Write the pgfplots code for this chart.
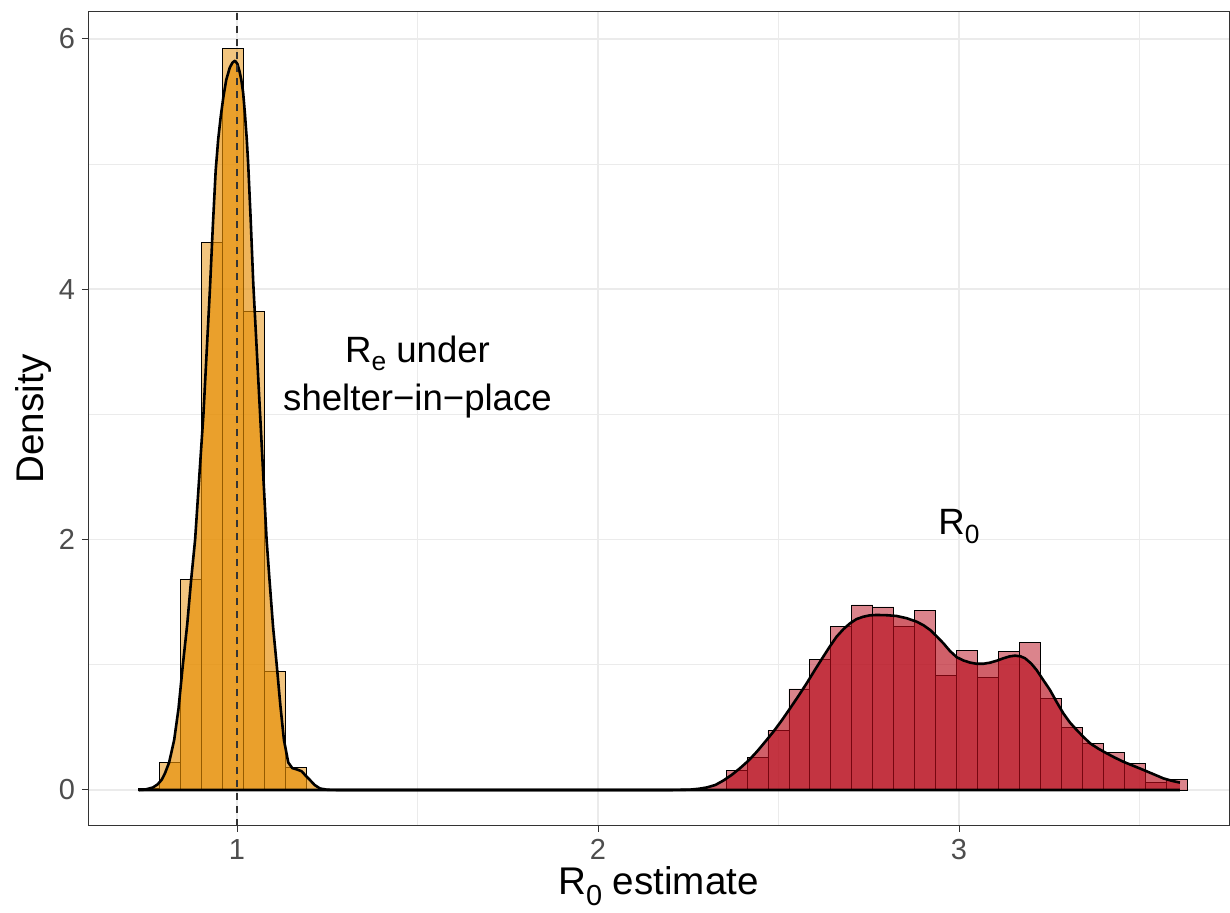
\documentclass[border=0pt]{standalone}
\usepackage{fontspec}
\setmainfont{Liberation Sans}
\usepackage{pgfplots}
\usepackage{pgfplotstable}
\pgfplotsset{compat=1.18}
\definecolor{orng}{RGB}{230,140,0}
\definecolor{rd}{RGB}{183,10,25}
\definecolor{gridc}{RGB}{235,235,235}
\definecolor{grey20}{RGB}{51,51,51}
\definecolor{grey30}{RGB}{77,77,77}
\newcommand{\sub}[1]{\raisebox{-0.22em}{\scalebox{0.72}{#1}}}
\newcommand{\subl}[1]{\raisebox{-0.26em}{\scalebox{0.75}{#1}}}

\pgfplotstableread{
x y
0.75685 0.01
0.81495 0.22
0.87305 1.68
0.93115 4.37
0.98925 5.92
1.04735 3.82
1.10545 0.95
1.16355 0.18
}\orhist

\pgfplotstableread{
x y
2.3837 0.157
2.4418 0.258
2.4999 0.474
2.5580 0.807
2.6161 1.046
2.6742 1.305
2.7323 1.478
2.7904 1.462
2.8485 1.305
2.9066 1.432
2.9647 0.916
3.0228 1.116
3.0809 0.900
3.1390 1.105
3.1971 1.177
3.2552 0.732
3.3133 0.500
3.3714 0.373
3.4295 0.298
3.4876 0.213
3.5457 0.059
3.6038 0.085
}\rdhist

\pgfplotstableread{
x y
0.7278 0
0.745 0.003
0.767 0.02
0.780 0.045
0.791 0.08
0.800 0.13
0.812 0.22
0.826 0.40
0.838 0.65
0.850 1.0
0.862 1.32
0.873 1.68
0.884 2.0
0.895 2.48
0.907 3.0
0.916 3.5
0.925 4.0
0.933 4.5
0.941 4.95
0.948 5.2
0.955 5.38
0.962 5.53
0.970 5.67
0.980 5.77
0.9875 5.81
0.9945 5.825
1.001 5.80
1.007 5.74
1.012 5.67
1.017 5.57
1.022 5.40
1.027 5.20
1.031 5.0
1.038 4.55
1.045 4.05
1.055 3.5
1.064 3.0
1.073 2.5
1.082 2.0
1.090 1.68
1.100 1.3
1.110 1.0
1.120 0.68
1.130 0.40
1.142 0.22
1.153 0.175
1.165 0.165
1.179 0.15
1.190 0.115
1.202 0.08
1.215 0.04
1.230 0.012
1.250 0.002
1.280 0
3.612 0
}\ordens

\pgfplotstableread{
x y
0.7278 0
2.200 0
2.255 0.003
2.280 0.01
2.301 0.02
2.325 0.04
2.347 0.075
2.370 0.12
2.393 0.173
2.417 0.235
2.440 0.306
2.463 0.385
2.486 0.466
2.509 0.556
2.532 0.652
2.555 0.75
2.578 0.852
2.601 0.96
2.624 1.065
2.643 1.15
2.661 1.225
2.680 1.285
2.698 1.331
2.716 1.365
2.735 1.384
2.753 1.395
2.772 1.398
2.800 1.396
2.827 1.39
2.855 1.372
2.883 1.344
2.902 1.315
2.920 1.278
2.938 1.228
2.957 1.171
2.975 1.11
2.994 1.06
3.012 1.035
3.030 1.018
3.049 1.008
3.067 1.008
3.086 1.017
3.105 1.033
3.123 1.052
3.140 1.067
3.155 1.073
3.170 1.068
3.183 1.052
3.200 1.01
3.215 0.958
3.233 0.88
3.252 0.799
3.270 0.705
3.289 0.612
3.307 0.54
3.326 0.479
3.345 0.423
3.363 0.373
3.386 0.33
3.409 0.293
3.432 0.258
3.455 0.226
3.483 0.193
3.511 0.160
3.539 0.126
3.566 0.093
3.590 0.073
3.612 0.059
}\rddens

\begin{document}
\begin{tikzpicture}
\path[use as bounding box] (0,0) rectangle (615pt,456.5pt);
\begin{axis}[
  at={(44pt,43.5pt)}, anchor=south west,
  scale only axis, width=570.5pt, height=407pt,
  xmin=0.58726, xmax=3.7479, ymin=-0.2875, ymax=6.2141,
  xtick={1,2,3}, ytick={0,2,4,6},
  minor xtick={1.5,2.5,3.5}, minor ytick={1,3,5},
  grid=both,
  major grid style={color=gridc, line width=0.8pt},
  minor grid style={color=gridc, line width=0.45pt},
  tick align=outside, major tick length=3pt, minor tick length=0pt,
  xtick pos=bottom, ytick pos=left,
  tick style={color=grey20, line width=0.5pt},
  axis line style={color=grey20, line width=0.5pt},
  ticklabel style={font=\fontsize{14.5}{17}\selectfont, text=grey30},
  /pgf/number format/assume math mode=true,
]
\addplot[ybar, bar width=0.0581, bar shift=0pt, fill=orng, fill opacity=0.5, draw=black, line width=0.45pt] table[x=x,y=y] {\orhist};
\addplot[ybar, bar width=0.0581, bar shift=0pt, fill=rd, fill opacity=0.5, draw=black, line width=0.45pt] table[x=x,y=y] {\rdhist};
\addplot[draw=none, fill=orng, fill opacity=0.65] table[x=x,y=y] {\ordens} \closedcycle;
\addplot[draw=none, fill=rd, fill opacity=0.65] table[x=x,y=y] {\rddens} \closedcycle;
\addplot[black, line width=1.3pt, line join=round] table[x=x,y=y] {\ordens};
\addplot[black, line width=1.3pt, line join=round] table[x=x,y=y] {\rddens};
\addplot[grey20, line width=1pt, dash pattern=on 3.3pt off 3.2pt] coordinates {(1,-0.2875) (1,6.2141)};
\node[anchor=base, font=\fontsize{18.3}{22}\selectfont] at (axis cs:1.5,3.418) {R\sub{e} under};
\node[anchor=base, font=\fontsize{18.3}{22}\selectfont] at (axis cs:1.5,3.035) {shelter−in−place};
\node[anchor=base, font=\fontsize{18.3}{22}\selectfont] at (axis cs:3.0,2.037) {R\sub{0}};
\end{axis}
\node[anchor=base, font=\fontsize{19.3}{23}\selectfont] at (329.25pt,9pt) {R\subl{0} estimate};
\node[anchor=base, rotate=90, font=\fontsize{19.3}{23}\selectfont] at (21.5pt,247pt) {Density};
\end{tikzpicture}
\end{document}
